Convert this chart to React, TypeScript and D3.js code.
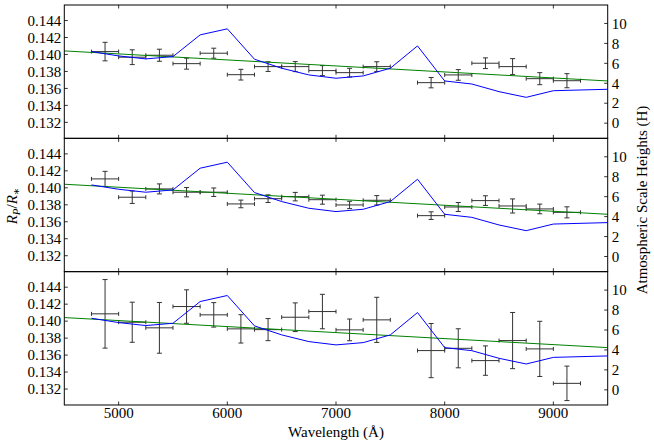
import * as d3 from 'd3';

// bin centres (Å), each bin is 250 Å wide
const binCenters = [4875, 5125, 5375, 5625, 5875, 6125, 6375, 6625, 6875, 7125, 7375, 7875, 8125, 8375, 8625, 8875, 9125];
const binHalfWidth = 125;

const topValues = [0.14034, 0.13968, 0.13991, 0.13892, 0.14015, 0.13762, 0.13857, 0.13857, 0.1381, 0.13786, 0.13857, 0.13668, 0.13759, 0.13897, 0.13857, 0.13715, 0.13691];
const topErrors = [0.00109, 0.00087, 0.00071, 0.00065, 0.00059, 0.00063, 0.00057, 0.00059, 0.00059, 0.00051, 0.00057, 0.00061, 0.00063, 0.00063, 0.00094, 0.00071, 0.00083];

const midValues = [0.14105, 0.13889, 0.13987, 0.13948, 0.13948, 0.1381, 0.13872, 0.13896, 0.1386, 0.13798, 0.13853, 0.13672, 0.13774, 0.13849, 0.13786, 0.13751, 0.13711];
const midErrors = [0.00089, 0.00073, 0.00059, 0.00055, 0.0005, 0.00045, 0.00045, 0.0005, 0.00053, 0.00043, 0.00055, 0.00045, 0.00053, 0.00057, 0.00083, 0.00057, 0.00065];

const botValues = [0.14086, 0.13987, 0.13921, 0.14172, 0.14074, 0.13909, 0.139, 0.14046, 0.14113, 0.13897, 0.14015, 0.13653, 0.1368, 0.13535, 0.13771, 0.13673, 0.13267];
const botErrors = [0.00404, 0.00236, 0.00299, 0.00197, 0.00144, 0.00167, 0.0013, 0.00169, 0.00203, 0.00128, 0.00266, 0.00319, 0.0023, 0.00173, 0.00331, 0.00325, 0.00203];

// atmospheric model (blue)
const modelWavelengths = [4750, 5000, 5250, 5500, 5750, 6000, 6250, 6500, 6750, 7000, 7250, 7500, 7750, 8000, 8250, 8500, 8750, 9000, 9500];
const modelValues = [0.14034, 0.13983, 0.13948, 0.13975, 0.14231, 0.14302, 0.13944, 0.13838, 0.13759, 0.1372, 0.13747, 0.13838, 0.14101, 0.13688, 0.13652, 0.13562, 0.13495, 0.13573, 0.1359];

// linear fit (green)
const fitWavelengths = [4500, 9500];
const fitValues = [0.14042, 0.13688];

const xTicks = [5000, 6000, 7000, 8000, 9000];
const yTicks = [0.132, 0.134, 0.136, 0.138, 0.14, 0.142, 0.144];
const hTicks = [0, 2, 4, 6, 8, 10];

const panels = [
  { values: topValues, errors: topErrors },
  { values: midValues, errors: midErrors },
  { values: botValues, errors: botErrors },
];

const W = 654;
const H = 447;
const left = 64.3;
const right = 607.7;
const firstTop = 5;
const panelH = 133.33;
const font = "'Liberation Serif', 'Times New Roman', Times, 'DejaVu Serif', serif";
const tickLen = 3.5;

const x = d3.scaleLinear().domain([4500, 9500]).range([left, right]);

function Panel({ index, values, errors }: { index: number; values: number[]; errors: number[] }) {
  const top = firstTop + index * panelH;
  const bottom = top + panelH;
  const y = d3.scaleLinear().domain([0.13012, 0.14583]).range([bottom, top]);
  const hs = d3.scaleLinear().domain([-1.52, 11.85]).range([bottom, top]);
  const modelPath = d3
    .line<number>()
    .x((_, i) => x(modelWavelengths[i]))
    .y((d) => y(d))(modelValues);
  const fitPath = d3
    .line<number>()
    .x((_, i) => x(fitWavelengths[i]))
    .y((d) => y(d))(fitValues);
  const clipId = `clip-${index}`;
  const errColor = '#333';

  return (
    <g>
      <defs>
        <clipPath id={clipId}>
          <rect x={left} y={top} width={right - left} height={panelH} />
        </clipPath>
      </defs>
      <g clipPath={`url(#${clipId})`}>
        {binCenters.map((c, i) => {
          const cx = x(c);
          const cy = y(values[i]);
          const x0 = x(c - binHalfWidth);
          const x1 = x(c + binHalfWidth);
          const y0 = y(values[i] - errors[i]);
          const y1 = y(values[i] + errors[i]);
          return (
            <g key={c} stroke={errColor} strokeWidth={1} fill="none">
              <line x1={x0} x2={x1} y1={cy} y2={cy} />
              <line x1={x0} x2={x0} y1={cy - 2} y2={cy + 2} />
              <line x1={x1} x2={x1} y1={cy - 2} y2={cy + 2} />
              <line x1={cx} x2={cx} y1={y0} y2={y1} />
              <line x1={cx - 2.5} x2={cx + 2.5} y1={y0} y2={y0} />
              <line x1={cx - 2.5} x2={cx + 2.5} y1={y1} y2={y1} />
            </g>
          );
        })}
        <path d={fitPath ?? ''} fill="none" stroke="#008000" strokeWidth={1} />
        <path d={modelPath ?? ''} fill="none" stroke="#0000ff" strokeWidth={1} />
      </g>

      {/* inward ticks on all four sides */}
      <g stroke="#000" strokeWidth={0.8}>
        {yTicks.map((t) => (
          <line key={`l${t}`} x1={left} x2={left + tickLen} y1={y(t)} y2={y(t)} />
        ))}
        {hTicks.map((t) => (
          <line key={`r${t}`} x1={right} x2={right - tickLen} y1={hs(t)} y2={hs(t)} />
        ))}
        {xTicks.map((t) => (
          <g key={`x${t}`}>
            <line x1={x(t)} x2={x(t)} y1={top} y2={top + tickLen} />
            <line x1={x(t)} x2={x(t)} y1={bottom} y2={bottom - tickLen} />
          </g>
        ))}
      </g>

      <g style={{ fontFamily: font, fontSize: 15 }} fill="#000">
        {yTicks.map((t) => (
          <text key={`lt${t}`} x={left - 3} y={y(t)} dy="0.35em" textAnchor="end">
            {d3.format('.3f')(t)}
          </text>
        ))}
        {hTicks.map((t) => (
          <text key={`rt${t}`} x={right + 4} y={hs(t)} dy="0.35em" textAnchor="start">
            {t}
          </text>
        ))}
      </g>

      <rect x={left} y={top} width={right - left} height={panelH} fill="none" stroke="#000" strokeWidth={1} />
    </g>
  );
}

export default function App() {
  const bottomEdge = firstTop + 3 * panelH;
  return (
    <div style={{ width: W, height: H, background: '#fff' }}>
      <style>{'body{margin:0}'}</style>
      <svg width={W} height={H} style={{ display: 'block' }}>
        <rect width={W} height={H} fill="#fff" />
        {panels.map((p, i) => (
          <Panel key={i} index={i} values={p.values} errors={p.errors} />
        ))}
        <g style={{ fontFamily: font, fontSize: 15 }} fill="#000">
          {xTicks.map((t) => (
            <text key={t} x={x(t)} y={bottomEdge + 13.5} textAnchor="middle">
              {t}
            </text>
          ))}
          <text x={(left + right) / 2} y={437} textAnchor="middle">
            Wavelength (Å)
          </text>
          <text transform="translate(647,200) rotate(-90)" textAnchor="middle">
            Atmospheric Scale Heights (H)
          </text>
          <text transform="translate(17,206) rotate(-90)" textAnchor="middle">
            <tspan fontStyle="italic">R</tspan>
            <tspan fontStyle="italic" fontSize={11} dy={3}>P</tspan>
            <tspan dy={-3}>/</tspan>
            <tspan fontStyle="italic">R</tspan>
            <tspan fontSize={11} dy={3}>∗</tspan>
          </text>
        </g>
      </svg>
    </div>
  );
}
